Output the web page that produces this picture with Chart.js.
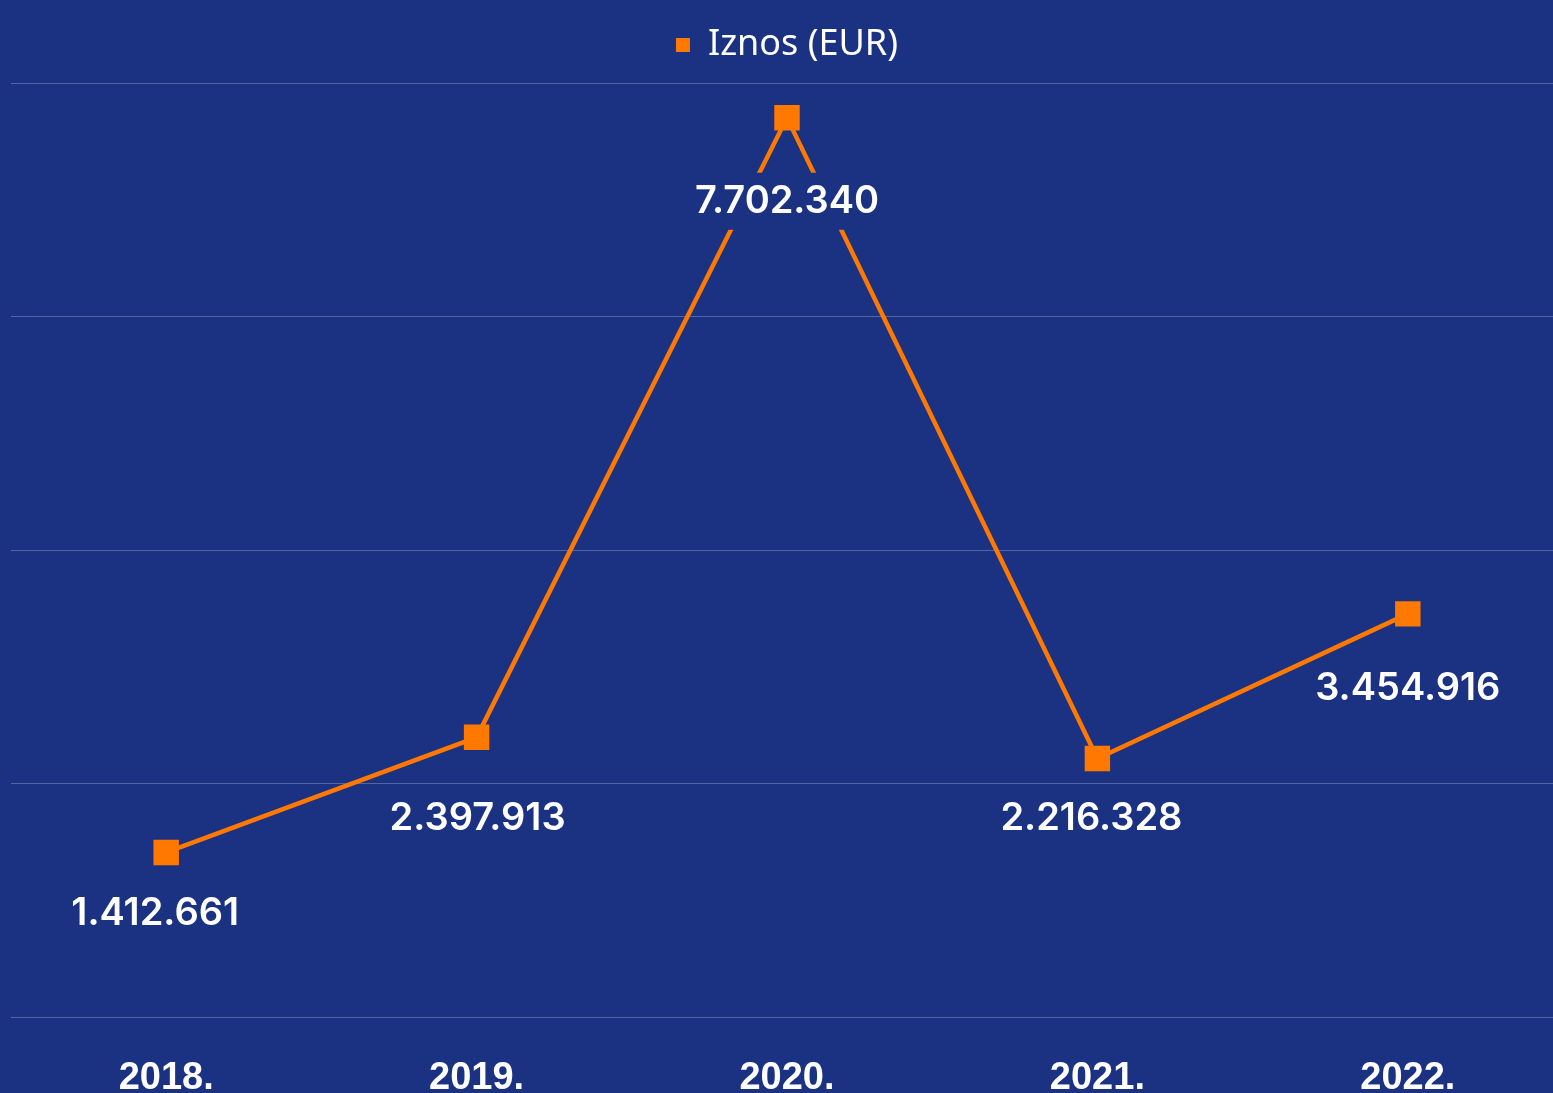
<!DOCTYPE html>
<html>
<head>
<meta charset="utf-8">
<script src="https://cdn.jsdelivr.net/npm/chart.js@4/dist/chart.umd.min.js"></script>
<style>
  html, body { margin: 0; padding: 0; background: #1b3282; overflow: hidden; }
  #wrap { position: absolute; left: 0; top: 0; width: 1563px; height: 1131px; }
</style>
</head>
<body>
<div id="wrap"><canvas id="iznosChart" width="1563" height="1131"></canvas></div>
<script>
// Data
const years = ["2018.", "2019.", "2020.", "2021.", "2022."];
const iznos = [1412661, 2397913, 7702340, 2216328, 3454916];
const seriesLabel = "Iznos (EUR)";

const BG = "#1b3282";
const ORANGE = "#ff7800";

// offsets of value labels relative to their point (layout only)
const labelShift = [[-11, 60], [1, 80], [0, 83], [-6, 59], [0, 74]];

function formatDots(n) {
    return String(n).replace(/\B(?=(\d{3})+(?!\d))/g, ".");
}

// Fix legend height so the plot starts where it does in the picture
const legendHeight = {
    id: "legendHeight",
    beforeInit(chart) {
        const fit = chart.legend.fit;
        chart.legend.fit = function () {
            fit.call(this);
            this.height = 83;
        };
    }
};

// Value labels under points, with a background box that hides the line
const valueLabels = {
    id: "valueLabels",
    afterDatasetsDraw(chart) {
        const ctx = chart.ctx;
        const meta = chart.getDatasetMeta(0);
        ctx.save();
        ctx.font = "600 38px Inter, 'Noto Sans', sans-serif";
        ctx.textAlign = "center";
        ctx.textBaseline = "middle";
        meta.data.forEach((pt, i) => {
            const txt = formatDots(chart.data.datasets[0].data[i]);
            const x = pt.x + labelShift[i][0];
            const y = pt.y + labelShift[i][1];
            const w = ctx.measureText(txt).width + 2;
            ctx.fillStyle = BG;
            ctx.fillRect(x - w / 2, y - 28, w, 57);
            ctx.fillStyle = "#ffffff";
            ctx.fillText(txt, x, y + 1);
        });
        ctx.restore();
    }
};

const ctx = document.getElementById("iznosChart").getContext("2d");
new Chart(ctx, {
    type: "line",
    data: {
        labels: years,
        datasets: [{
            label: seriesLabel,
            data: iznos,
            borderColor: ORANGE,
            backgroundColor: ORANGE,
            borderWidth: 4.5,
            pointStyle: "rect",
            pointRadius: 18,
            pointBackgroundColor: ORANGE,
            pointBorderColor: ORANGE,
            pointBorderWidth: 0,
            fill: false,
            tension: 0
        }]
    },
    options: {
        responsive: false,
        animation: false,
        devicePixelRatio: 1,
        layout: { autoPadding: false, padding: { left: 11, right: 0, top: 0, bottom: 0 } },
        plugins: {
            legend: {
                display: true,
                position: "top",
                labels: {
                    color: "#ffffff",
                    font: { family: "'Noto Sans', 'DejaVu Sans', sans-serif", size: 36 },
                    usePointStyle: true,
                    pointStyle: "rect",
                    boxWidth: 14,
                    boxHeight: 14,
                    padding: 27
                }
            },
            tooltip: { enabled: false }
        },
        scales: {
            x: {
                offset: true,
                grid: { display: false },
                border: { display: false },
                ticks: {
                    color: "#ffffff",
                    padding: 30,
                    font: { family: "'Liberation Sans', Arial, sans-serif", size: 38, weight: "bold" }
                }
            },
            y: {
                min: 0,
                max: 8000000,
                ticks: { display: false, stepSize: 2000000 },
                grid: { color: "rgba(255,255,255,0.25)", lineWidth: 1, drawTicks: false },
                border: { display: false }
            }
        }
    },
    plugins: [legendHeight, valueLabels]
});
</script>
</body>
</html>
